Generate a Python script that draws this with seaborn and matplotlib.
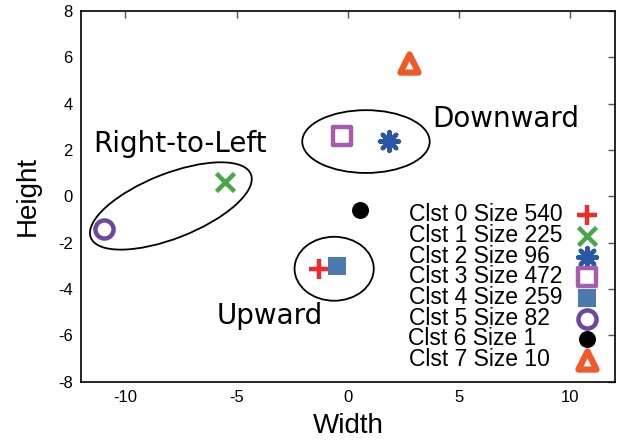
import matplotlib
matplotlib.use('Agg')
import matplotlib.pyplot as plt
from matplotlib.patches import Ellipse
import seaborn as sns

sns.set_style("white")
plt.rcParams['font.family'] = ['Liberation Sans', 'DejaVu Sans']
plt.rcParams['text.color'] = 'black'
plt.rcParams['axes.labelcolor'] = 'black'
plt.rcParams['xtick.color'] = 'black'
plt.rcParams['ytick.color'] = 'black'
plt.rcParams['axes.unicode_minus'] = False

# cluster centres
clusters = [0, 1, 2, 3, 4, 5, 6, 7]
sizes = [540, 225, 96, 472, 259, 82, 1, 10]
width = [-1.28, -5.51, 1.83, -0.26, -0.49, -10.96, 0.52, 2.76]
height = [-3.14, 0.63, 2.39, 2.59, -3.00, -1.40, -0.57, 5.78]

colors = ['#EE2A2A', '#48A848', '#2A56A8', '#A85CAC', '#4A7AB0', '#6A48A0', '#000000', '#F05A2A']
markers = ['+', 'x', (8, 2, 0), 's', 's', 'o', 'o', '^']
filled = [False, False, False, False, True, False, True, False]
msize = [190, 170, 190, 170, 150, 170, 150, 170]
edge_lw = [3.2, 3.2, 3.0, 3.2, 0, 3.2, 0, 4.5]

fig = plt.figure(figsize=(6.23, 4.45), dpi=100)
ax = fig.add_axes([0.130, 0.142, 0.857, 0.833])

for i in range(len(clusters)):
    # pad short labels with figure spaces so the legend text lines up on the left
    lab = f"Clst {clusters[i]} Size {sizes[i]}"
    lab = lab + "\u2007" * (3 - len(str(sizes[i])))
    kw = dict(marker=markers[i], s=msize[i], label=lab, zorder=3)
    if markers[i] in ('+', 'x') or isinstance(markers[i], tuple):
        kw.update(color=colors[i], linewidth=edge_lw[i])
    elif filled[i]:
        kw.update(color=colors[i], edgecolor=colors[i], linewidth=0)
    else:
        kw.update(facecolor='white', edgecolor=colors[i], linewidth=edge_lw[i])
    sns.scatterplot(x=[width[i]], y=[height[i]], ax=ax, **kw)

# group outlines and captions
ax.add_patch(Ellipse((-7.96, -0.41), 7.7, 2.8, angle=20.6, fill=False, lw=1.3, color='black'))
ax.add_patch(Ellipse((0.81, 2.37), 5.73, 2.71, fill=False, lw=1.3, color='black'))
ax.add_patch(Ellipse((-0.62, -3.12), 3.56, 2.76, fill=False, lw=1.3, color='black'))
ann = dict(family='DejaVu Sans', fontsize=20, ha='center', va='baseline')
ax.text(-7.56, 1.93, "Right-to-Left", **ann)
ax.text(-3.53, -5.51, "Upward", **ann)
ax.text(7.08, 3.0, "Downward", **ann)

ax.set_xlim(-12, 12)
ax.set_ylim(-8, 8)
ax.set_xticks([-10, -5, 0, 5, 10])
ax.set_yticks(range(-8, 9, 2))
ax.tick_params(direction='in', length=5, width=1, color='#555555', labelsize=12,
               top=True, right=True, pad=6)
for sp in ax.spines.values():
    sp.set_color('black')
    sp.set_linewidth(1.2)

ax.set_xlabel("Width", fontsize=20)
ax.set_ylabel("Height", fontsize=20)
ax.xaxis.set_label_coords(0.5, -0.085)
ax.yaxis.set_label_coords(-0.075, 0.5)

ax.legend(loc='upper right', bbox_to_anchor=(0.970, 0.482), frameon=False, markerfirst=False,
          fontsize=16.5, labelspacing=-0.10, handlelength=1.0, handletextpad=0.6,
          borderpad=0, borderaxespad=0, scatterpoints=1)

fig.savefig("out.png", dpi=100)
